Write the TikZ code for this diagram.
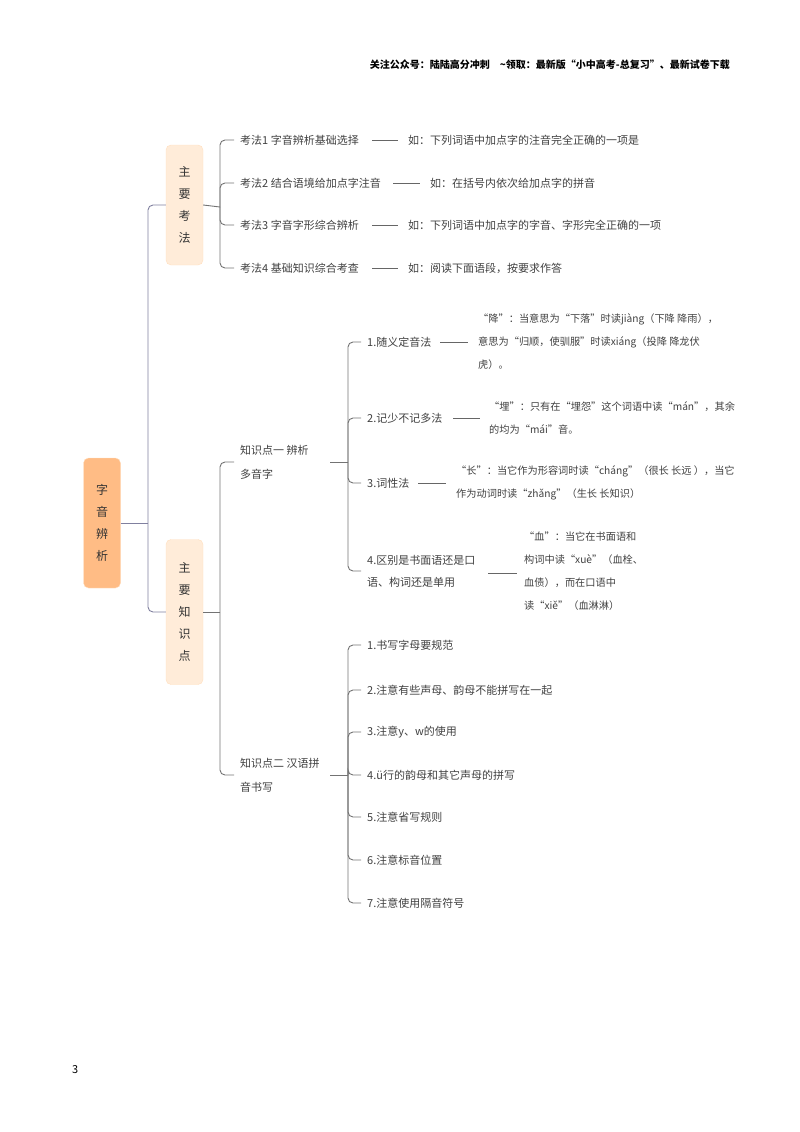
\documentclass[tikz,border=0pt]{standalone}
\usepackage{fontspec}
\setmainfont{Noto Sans CJK SC}
\begin{document}
\begin{tikzpicture}[x=1pt,y=-1pt,
  txt/.style={anchor=west,inner sep=0pt,text=black!75,font=\fontsize{11}{14}\selectfont,align=left},
  dtxt/.style={txt,font=\fontsize{10.2}{23}\selectfont},
  ln/.style={draw=black!55,line width=0.9pt,rounded corners=5pt},
  dsh/.style={draw=black!60,line width=0.8pt},
  big/.style={draw=orange!25,rounded corners=5pt,minimum width=37pt,align=center,font=\fontsize{12}{22}\selectfont,text=black!80}]
\useasboundingbox (0,0) rectangle (800,1132);
\node[anchor=east,inner sep=0pt,font=\fontsize{10}{12}\selectfont\bfseries] (hdr) at (730,65) {关注公众号：陆陆高分冲刺\quad \textasciitilde 领取：最新版“小中高考-总复习”、最新试卷下载};
\node[anchor=west,inner sep=0pt,font=\fontsize{11}{13}\selectfont] (pg) at (72,1070) {3};
% root
\node[big,fill=orange!45!white!95!red,minimum height=130pt] (root) at (102,523) {字\\音\\辨\\析};
\node[big,fill=orange!15,minimum height=120pt] (b1) at (184.5,205) {主\\要\\考\\法};
\node[big,fill=orange!15,minimum height=145pt] (b2) at (184.5,612) {主\\要\\知\\识\\点};
\coordinate (rj) at (148,523);
\draw[ln,draw=blue!25!black!50] (root.east) -- (rj);
\draw[ln,draw=blue!25!black!50] (rj) |- (b1.west);
\draw[ln,draw=blue!25!black!50] (rj) |- (b2.west);
% kaofa
\coordinate (j1) at (220,207);
\draw[ln] (b1.east) -- (j1);
\node[txt] (k1) at (240,140) {考法1 字音辨析基础选择};
\node[txt] (k2) at (240,183) {考法2 结合语境给加点字注音};
\node[txt] (k3) at (240,225) {考法3 字音字形综合辨析};
\node[txt] (k4) at (240,268) {考法4 基础知识综合考查};
\foreach \k in {k1,k2,k3,k4} \draw[ln] (j1) |- ([xshift=-6pt]\k.west);
\node[txt] (e1) at (408,140) {如：下列词语中加点字的注音完全正确的一项是};
\node[txt] (e2) at (430,183) {如：在括号内依次给加点字的拼音};
\node[txt] (e3) at (408,225) {如：下列词语中加点字的字音、字形完全正确的一项};
\node[txt] (e4) at (408,268) {如：阅读下面语段，按要求作答};
\draw[dsh] (372,140) -- (398,140);
\draw[dsh] (393,183) -- (420,183);
\draw[dsh] (372,225) -- (398,225);
\draw[dsh] (372,268) -- (398,268);
% zhishidian
\coordinate (j2) at (220,612);
\draw[ln] (b2.east) -- (j2);
\node[txt,font=\fontsize{11}{24}\selectfont] (z1) at (240,462) {知识点一 辨析\\多音字};
\node[txt,font=\fontsize{11}{24}\selectfont] (z2) at (240,775) {知识点二 汉语拼\\音书写};
\draw[ln] (j2) |- ([xshift=-6pt]z1.west);
\draw[ln] (j2) |- ([xshift=-6pt]z2.west);
\coordinate (j3) at (348,462);
\draw[ln] (330,462) -- (j3);
\node[txt] (m1) at (367,342) {1.随义定音法};
\node[txt] (m2) at (367,418) {2.记少不记多法};
\node[txt] (m3) at (367,483) {3.词性法};
\node[txt,font=\fontsize{11}{22}\selectfont] (m4) at (367,571) {4.区别是书面语还是口\\语、构词还是单用};
\foreach \k in {m1,m2,m3,m4} \draw[ln] (j3) |- ([xshift=-6pt]\k.west);
\node[dtxt] (d1) at (478,342) {“降”：当意思为“下落”时读jiàng（下降 降雨），\\意思为“归顺，使驯服”时读xiáng（投降 降龙伏\\虎）。};
\node[dtxt] (d2) at (489,418) {“埋”：只有在“埋怨”这个词语中读“mán”，其余\\的均为“mái”音。};
\node[dtxt] (d3) at (456,483) {“长”：当它作为形容词时读“cháng”（很长 长远 ），当它\\作为动词时读“zhǎng”（生长 长知识）};
\node[dtxt] (d4) at (524,571) {“血”：当它在书面语和\\构词中读“xuè”（血栓、\\血债），而在口语中\\读“xiě”（血淋淋）};
\draw[dsh] (440,342) -- (468,342);
\draw[dsh] (453,418) -- (480,418);
\draw[dsh] (418,483) -- (446,483);
\draw[dsh] (488,573) -- (517,573);
\coordinate (j4) at (348,775);
\draw[ln] (330,775) -- (j4);
\node[txt] (p1) at (367,645) {1.书写字母要规范};
\node[txt] (p2) at (367,690) {2.注意有些声母、韵母不能拼写在一起};
\node[txt] (p3) at (367,732) {3.注意y、w的使用};
\node[txt] (p4) at (367,775) {4.ü行的韵母和其它声母的拼写};
\node[txt] (p5) at (367,817) {5.注意省写规则};
\node[txt] (p6) at (367,860) {6.注意标音位置};
\node[txt] (p7) at (367,903) {7.注意使用隔音符号};
\foreach \k in {p1,p2,p3,p4,p5,p6,p7} \draw[ln] (j4) |- ([xshift=-6pt]\k.west);
\end{tikzpicture}
\end{document}
